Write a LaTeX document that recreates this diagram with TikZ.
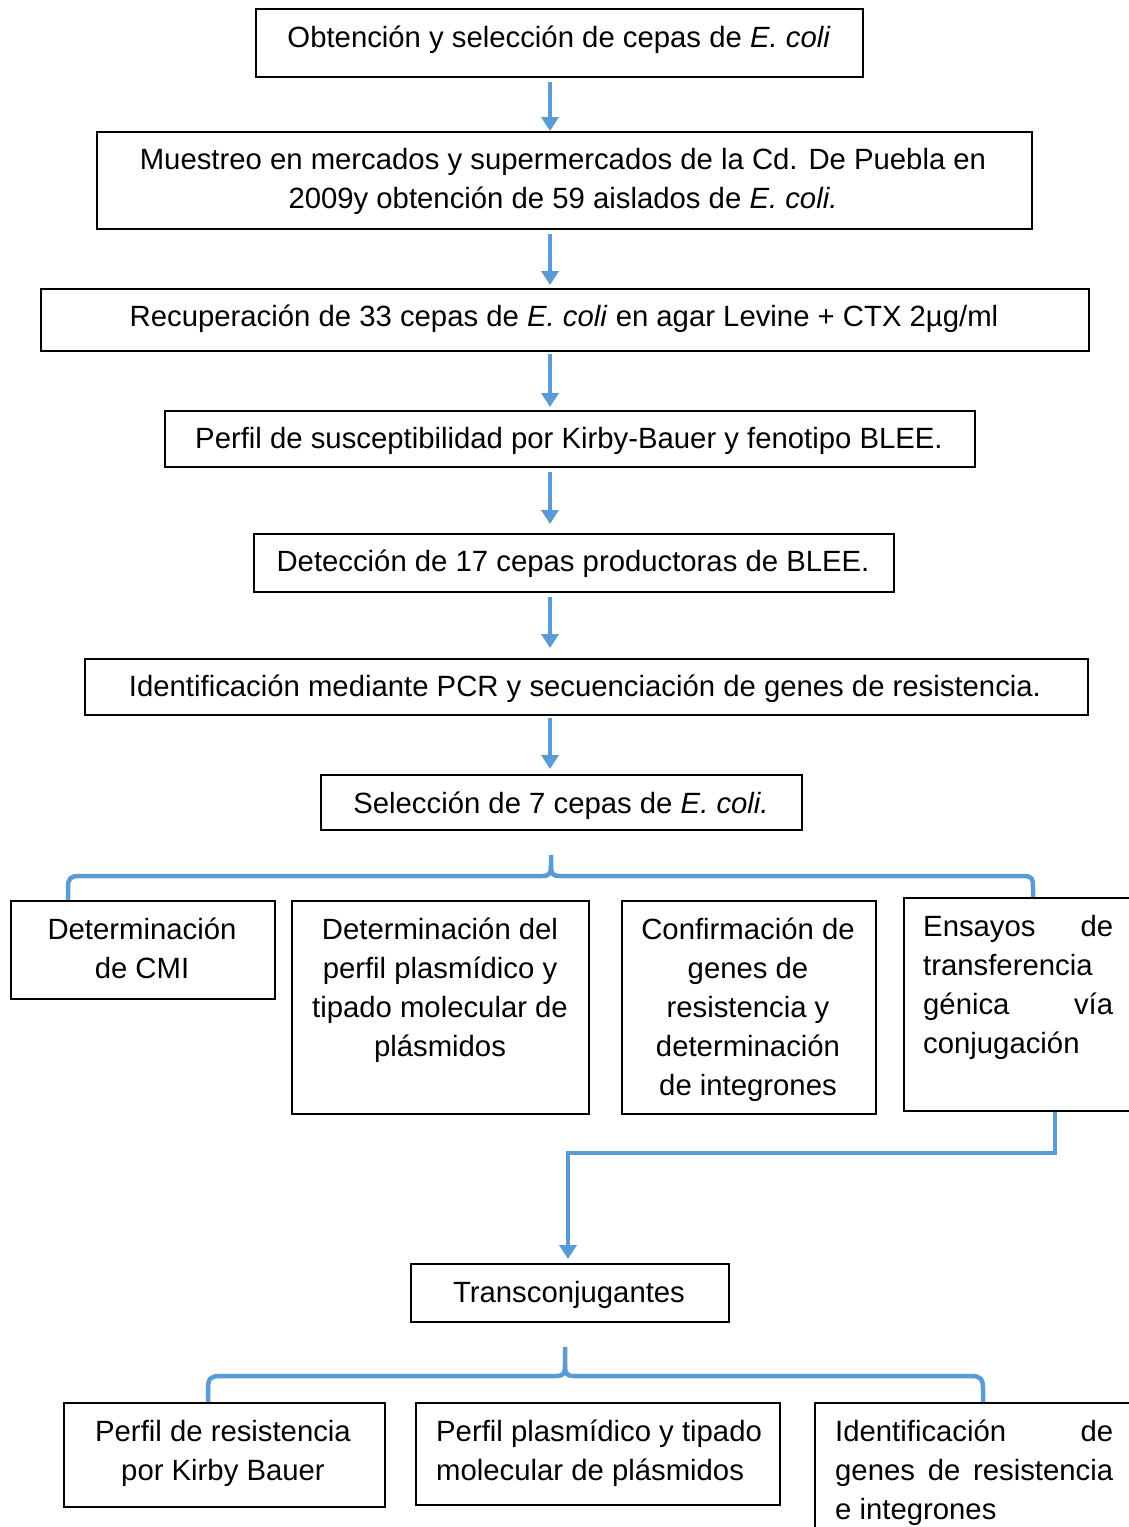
\documentclass[tikz,border=0pt]{standalone}
\usepackage{fontspec}
\setmainfont{Liberation Sans}
\usetikzlibrary{arrows.meta}
\definecolor{lblue}{HTML}{5B9BD5}
\begin{document}
\begin{tikzpicture}[x=1pt,y=-1pt,
  box/.style={draw=black, line width=1.5pt, inner sep=0pt, anchor=north west},
  txt/.style={inner sep=0pt, anchor=base, font=\fontsize{29.3}{39}\selectfont},
  mtxt/.style={txt, align=center},
  ltxt/.style={inner sep=0pt, anchor=base west, align=left, font=\fontsize{29.3}{39}\selectfont},
  arr/.style={draw=lblue, line width=4pt, -{Triangle[width=17pt,length=14pt]}},
  brace/.style={draw=lblue, line width=4.5pt, line join=round}]
\useasboundingbox (0,0) rectangle (1129,1527);
\fill[white] (0,0) rectangle (1129,1527);

% main boxes
\node[box, minimum width=607pt, minimum height=68pt] (b1) at (255,8) {};
\node[box, minimum width=935pt, minimum height=97pt] (b2) at (96,131) {};
\node[box, minimum width=1048pt, minimum height=62pt] (b3) at (40,288) {};
\node[box, minimum width=810pt, minimum height=56pt] (b4) at (164,410) {};
\node[box, minimum width=640pt, minimum height=58pt] (b5) at (253,533) {};
\node[box, minimum width=1003pt, minimum height=56pt] (b6) at (84,658) {};
\node[box, minimum width=481pt, minimum height=55pt] (b7) at (320,774) {};

% (anchor base = baseline of the last line)
\node[txt] (t1) at (559,47) {Obtención y selección de cepas de \textit{E. coli}};
\node[mtxt] (t2) at (563,208) {Muestreo en mercados y supermercados de la Cd. De Puebla en\\2009y obtención de 59 aislados de \textit{E. coli.}};
\node[txt] (t3) at (564,326) {Recuperación de 33 cepas de \textit{E. coli} en agar Levine + CTX 2µg/ml};
\node[txt] (t4) at (569,448) {Perfil de susceptibilidad por Kirby-Bauer y fenotipo BLEE.};
\node[txt] (t5) at (573,571) {Detección de 17 cepas productoras de BLEE.};
\node[txt] (t6) at (585,696) {Identificación mediante PCR y secuenciación de genes de resistencia.};
\node[txt] (t7) at (561,813) {Selección de 7 cepas de \textit{E. coli.}};

% row of four
\node[box, minimum width=264pt, minimum height=98pt] (ra) at (10,900) {};
\node[box, minimum width=297pt, minimum height=213pt] (rb) at (291,900) {};
\node[box, minimum width=254pt, minimum height=213pt] (rc) at (621,900) {};
\node[box, minimum width=232pt, minimum height=213pt] (rd) at (903,897) {};

\node[mtxt] (ta) at (142,978) {Determinación\\de CMI};
\node[mtxt] (tb) at (440,1056) {Determinación del\\perfil plasmídico y\\tipado molecular de\\plásmidos};
\node[mtxt] (tc) at (748,1095) {Confirmación de\\genes de\\resistencia y\\determinación\\de integrones};
\node[ltxt] (td) at (923,1053) {\hbox to 190pt{Ensayos\hfill de}\\transferencia\\\hbox to 190pt{génica\hfill vía}\\conjugación};

% transconjugantes
\node[box, minimum width=318pt, minimum height=58pt] (tr) at (410,1263) {};
\node[txt] (ttr) at (569,1302) {Transconjugantes};

% bottom row
\node[box, minimum width=321pt, minimum height=104pt] (be) at (63,1402) {};
\node[box, minimum width=364pt, minimum height=102pt] (bf) at (415,1402) {};
\node[box, minimum width=322pt, minimum height=132pt] (bg) at (814,1402) {};

\node[mtxt] (te) at (223,1480) {Perfil de resistencia\\por Kirby Bauer};
\node[ltxt] (tf) at (436,1480) {Perfil plasmídico y tipado\\molecular de plásmidos};
\node[ltxt] (tg) at (835,1519) {\hbox to 278pt{Identificación\hfill de}\\\hbox to 278pt{genes\hfill de\hfill resistencia}\\e integrones};

% vertical arrows
\coordinate (ax) at (550,0);
\draw[arr, shorten <=4pt] (b1.south -| ax) -- (b2.north -| ax);
\draw[arr, shorten <=4pt] (b2.south -| ax) -- ([yshift=3pt]b3.north -| ax);
\draw[arr, shorten <=2pt] (b3.south -| ax) -- ([yshift=3pt]b4.north -| ax);
\draw[arr, shorten <=4pt] (b4.south -| ax) -- ([yshift=9pt]b5.north -| ax);
\draw[arr, shorten <=4pt] (b5.south -| ax) -- ([yshift=10pt]b6.north -| ax);
\draw[arr, shorten <=2pt] (b6.south -| ax) -- ([yshift=5pt]b7.north -| ax);

% brace 1
\coordinate (p1) at (551,855);
\draw[brace] (ra.north -| 68,0) -- (68,888) .. controls (68,878) and (70,876) .. (80,876)
  -- (542,876) .. controls (549,876) and (551,874) .. (551,866) -- (p1);
\draw[brace] (551,866) .. controls (551,874) and (553,876) .. (560,876)
  -- (1023,876) .. controls (1032,876) and (1033,878) .. (1033,888) -- (rd.north -| 1033,0);

% connector to transconjugantes
\coordinate (k1) at (1055,1153);
\coordinate (k2) at (568,1153);
\draw[arr] (rd.south -| k1) -- (k1) -- (k2) -- ([yshift=4pt]tr.north -| k2);

% brace 2
\coordinate (p2) at (565,1347);
\draw[brace] (be.north -| 208,0) -- (208,1389) .. controls (208,1379) and (210,1376) .. (220,1376)
  -- (556,1376) .. controls (563,1376) and (565,1374) .. (565,1366) -- (p2);
\draw[brace] (565,1366) .. controls (565,1374) and (567,1376) .. (574,1376)
  -- (971,1376) .. controls (981,1376) and (983,1379) .. (983,1389) -- (bg.north -| 983,0);
\end{tikzpicture}
\end{document}
